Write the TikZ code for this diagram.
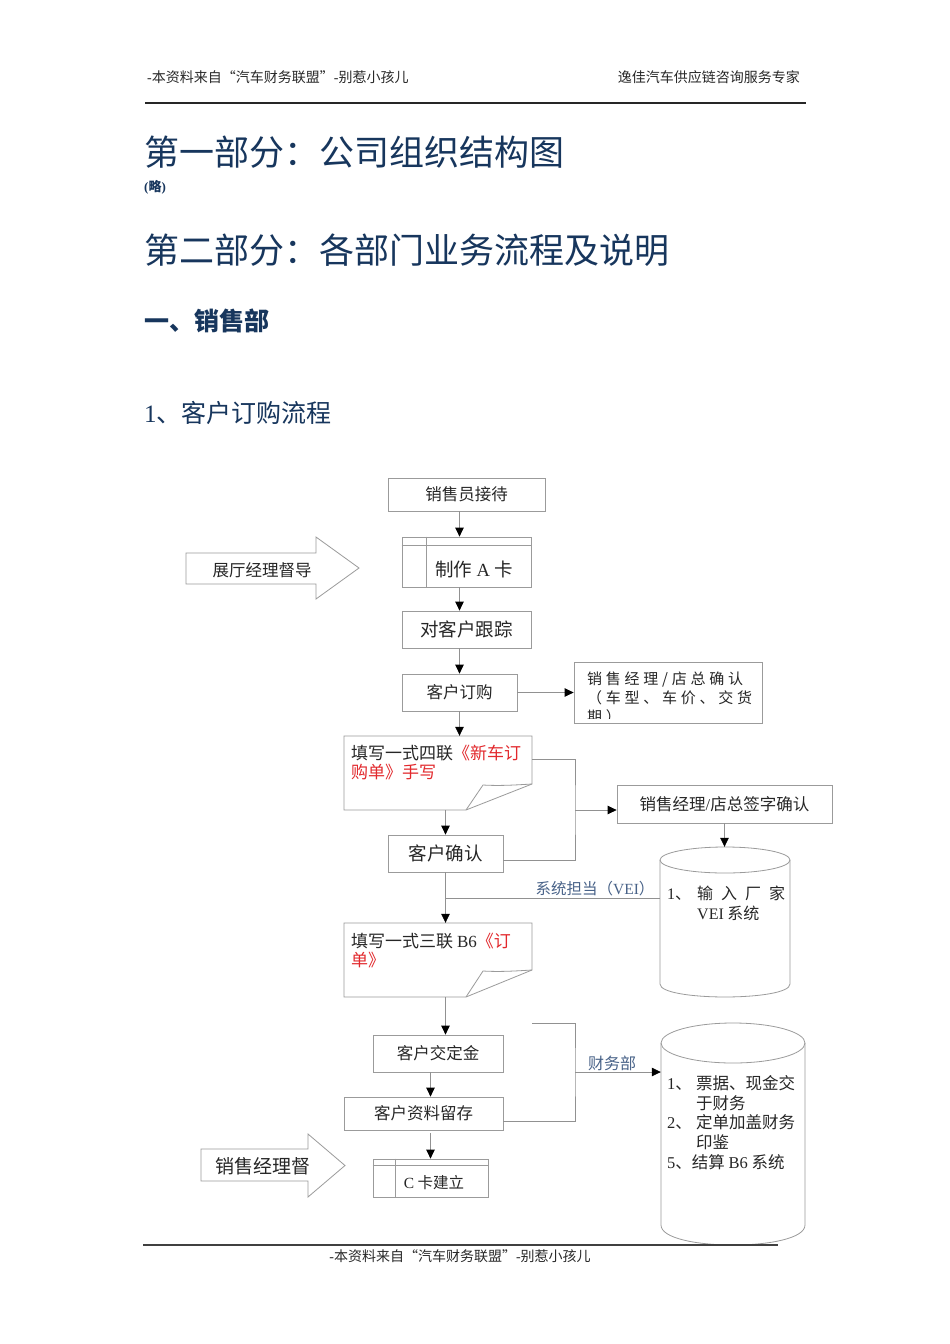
\documentclass[tikz,border=0pt]{standalone}
\usepackage{fontspec}
\setmainfont{Noto Sans CJK SC}
\newfontfamily\latn{Liberation Serif}
\newfontfamily\cjkwide[LetterSpace=25]{Noto Sans CJK SC}
\usetikzlibrary{arrows.meta,calc}
\newcommand{\fsz}[2]{\fontsize{#1}{#2}\selectfont}
\definecolor{navy}{RGB}{23,54,93}
\definecolor{boxgray}{RGB}{155,155,155}
\definecolor{linegray}{RGB}{145,145,145}
\definecolor{ordred}{RGB}{226,40,44}
\definecolor{slate}{RGB}{72,98,136}
\definecolor{headgray}{RGB}{40,40,40}
\begin{document}
\begin{tikzpicture}[x=1pt,y=1pt,yscale=-1,xscale=1,
    box/.style={draw=boxgray,line width=0.8pt,inner sep=0pt,text=black!85},
    ghost/.style={inner sep=0pt},
    link/.style={draw=linegray,line width=0.8pt},
    tip/.style={-{Triangle[length=9pt,width=8.5pt,color=black]}},
    txt/.style={inner sep=0pt,text=black!85,font=\fsz{16.5}{19}},
    note/.style={inner sep=0pt,text=slate,font=\fsz{15.5}{18}},
    head/.style={anchor=west,inner sep=0pt,text=navy}]
        % Page
        \fill[white] (0,0) rectangle (950,1344);
        \useasboundingbox (0,0) rectangle (950,1344);

        % Text Node
        \node[anchor=west,inner sep=0pt,text=headgray,font=\fsz{14}{16}] (hdleft) at (147,77) {{\latn -}本资料来自“汽车财务联盟”{\latn -}别惹小孩儿};
        % Text Node
        \node[anchor=east,inner sep=0pt,text=headgray,font=\fsz{14}{16}] (hdright) at (800,77) {逸佳汽车供应链咨询服务专家};
        %Straight Lines
        \draw[line width=1.8pt,black!85] (145,103) -- (806,103);

        % Text Node
        \node[head,font=\fsz{35}{40}] (part1) at (144,152) {第一部分：公司组织结构图};
        % Text Node
        \node[head,font=\fsz{13}{15}\bfseries] (omit) at (144,187) {{\latn\bfseries (}略{\latn\bfseries )}};
        % Text Node
        \node[head,font=\fsz{35}{40}] (part2) at (144,250) {第二部分：各部门业务流程及说明};
        % Text Node
        \node[head,font=\fsz{25}{30}\bfseries] (sales) at (144,321) {一、销售部};
        % Text Node
        \node[head,font=\fsz{25}{30}] (flow) at (144,413) {{\latn 1}、客户订购流程};

        %Shape: Rectangle
        \node[box,minimum width=157pt,minimum height=33pt,font=\fsz{16.5}{19}] (recv) at (466.5,494.5) {销售员接待};
        %Shape: Card
        \node[box,minimum width=129pt,minimum height=50pt] (cardA) at (466.5,562) {};
        \draw[box] ([yshift=9pt]cardA.north west) -- ([yshift=9pt]cardA.north east);
        \draw[box] ([xshift=25pt]cardA.north west) -- ([xshift=25pt]cardA.south west);
        \node[txt,font=\fsz{18.5}{22}] (cardAt) at (474,569) {制作 {\latn A} 卡};
        %Shape: Rectangle
        \node[box,minimum width=129pt,minimum height=37pt,font=\fsz{18.5}{22}] (track) at (466.5,629.5) {对客户跟踪};
        %Shape: Rectangle
        \node[box,minimum width=115pt,minimum height=37pt,font=\fsz{16.5}{19}] (order) at (459.5,692.5) {客户订购};
        %Shape: Rectangle
        \node[box,minimum width=188pt,minimum height=61pt] (confirm) at (668,692.5) {};
        \begin{scope}
            \clip (575,663) rectangle (761,718);
            \node[anchor=west,inner sep=0pt,align=left,text=black!85,font=\cjkwide\fsz{15}{19}] (confirmt) at (587,697.5) {销售经理/店总确认\\（车型、车价、交货\\期）};
        \end{scope}

        %Shape: Document
        \node[ghost,minimum width=188pt,minimum height=74pt] (doc1) at (438,773) {};
        \draw[box] (344,736) -- (532,736) -- (532,784) -- (466,810) -- (344,810) -- cycle;
        \draw[box] (466,810) -- (483,785) .. controls (500,786) and (515,785) .. (532,784);
        \node[txt,anchor=west,align=left,font=\fsz{17}{19}] (doc1t) at (351,762.5) {填写一式四联\textcolor{ordred}{《新车订}\\\textcolor{ordred}{购单》手写}};

        %Shape: Rectangle
        \node[box,minimum width=115pt,minimum height=37pt,font=\fsz{18.5}{22}] (ack) at (445.5,853.5) {客户确认};
        %Shape: Rectangle
        \node[box,minimum width=215pt,minimum height=38pt,font=\fsz{16.5}{19}] (sign) at (724.5,804) {销售经理{\latn /}店总签字确认};

        %Shape: Cylinder
        \node[ghost,minimum width=130pt,minimum height=150pt] (cyl1) at (725,922) {};
        \draw[box] (660,860) -- (660,984) .. controls (660,1001.3) and (790,1001.3) .. (790,984) -- (790,860);
        \draw[box] (725,860) ellipse [x radius=65, y radius=13];
        \node[txt,anchor=west,align=left,font=\fsz{16}{20}] (cyl1t) at (667,903) {\makebox[30pt][l]{{\latn 1}、}输\hspace{8pt}入\hspace{8pt}厂\hspace{8pt}家\\\hspace*{30pt}{\latn VEI} 系统};

        %Shape: Document
        \node[ghost,minimum width=188pt,minimum height=74pt] (doc2) at (438,960) {};
        \draw[box] (344,923) -- (532,923) -- (532,970) -- (466,997) -- (344,997) -- cycle;
        \draw[box] (466,997) -- (483,971) .. controls (500,972) and (515,971) .. (532,970);
        \node[txt,anchor=west,align=left,font=\fsz{17}{19}] (doc2t) at (351,950.5) {填写一式三联 {\latn B6}\textcolor{ordred}{《订}\\\textcolor{ordred}{单》}};

        %Shape: Rectangle
        \node[box,minimum width=130pt,minimum height=37pt,font=\fsz{16.5}{19}] (dep) at (438,1053.5) {客户交定金};
        %Shape: Rectangle
        \node[box,minimum width=159pt,minimum height=33pt,font=\fsz{16.5}{19}] (keep) at (423.5,1113.5) {客户资料留存};
        %Shape: Card
        \node[box,minimum width=115pt,minimum height=38pt] (cardC) at (430.5,1178) {};
        \draw[box] ([yshift=7pt]cardC.north west) -- ([yshift=7pt]cardC.north east);
        \draw[box] ([xshift=23pt]cardC.north west) -- ([xshift=23pt]cardC.south west);
        \node[txt,font=\fsz{15.5}{18}] (cardCt) at (434,1183) {{\latn C} 卡建立};

        %Shape: Cylinder
        \node[ghost,minimum width=144pt,minimum height=222pt] (cyl2) at (733,1134) {};
        \draw[box] (661,1043) -- (661,1225) .. controls (661,1251.7) and (805,1251.7) .. (805,1225) -- (805,1043);
        \draw[box] (733,1043) ellipse [x radius=72, y radius=20];
        \node[txt,anchor=west,align=left,font=\fsz{16.5}{19.75}] (cyl2t) at (667,1122.5) {\makebox[29pt][l]{{\latn 1}、}票据、现金交\\\hspace*{29pt}于财务\\\makebox[29pt][l]{{\latn 2}、}定单加盖财务\\\hspace*{29pt}印鉴\\{\latn 5}、结算 {\latn B6} 系统};

        %Shape: Right Arrow
        \draw[draw=boxgray,line width=0.8pt] (186,553) -- (316,553) -- (316,537) -- (359,568) -- (316,599) -- (316,584) -- (186,584) -- cycle;
        \node[txt,font=\fsz{16.5}{19}] (hallmgr) at (262,570) {展厅经理督导};
        %Shape: Right Arrow
        \draw[draw=boxgray,line width=0.8pt] (201,1149) -- (308,1149) -- (308,1134) -- (345,1165.5) -- (308,1197) -- (308,1181) -- (201,1181) -- cycle;
        \node[txt,font=\fsz{19}{22}] (salesmgr) at (263,1166) {销售经理督};

        %Straight Lines
        \draw[link,tip] (recv.south -| order.north) -- (cardA.north -| order.north);
        \draw[link,tip] (cardA.south -| order.north) -- (track.north -| order.north);
        \draw[link,tip] (track.south -| order.north) -- (order.north);
        \draw[link,tip] (order.east) -- (order.east -| confirm.west);
        \draw[link,tip] (order.south) -- (order.south |- doc1.north);
        \draw[link,tip] (doc1.south -| ack.north) -- (ack.north);

        %Straight Lines
        \coordinate (j1) at (575,810);
        \draw[link] ($(doc1.north east)!0.32!(doc1.south east)$) -| (j1) |- ($(ack.north east)!0.68!(ack.south east)$);
        \draw[link,tip] (j1) -- (j1 -| sign.west);
        \draw[link,tip] (sign.south) -- (sign.south |- cyl1.north);

        %Straight Lines
        \draw[link,tip] (ack.south) -- (ack.south |- doc2.north);
        \coordinate (vei) at (445.5,898);
        \draw[link] (vei) -- (vei -| cyl1.west);
        \node[note] (veilbl) at (595,889) {系统担当（{\latn VEI}）};

        %Straight Lines
        \draw[link,tip] (doc2.south -| ack.south) -- (dep.north -| ack.south);
        \draw[link,tip] (dep.south -| cardC.north) -- (keep.north -| cardC.north);
        \draw[link,tip] ([yshift=3pt]keep.south -| cardC.north) -- (cardC.north);

        %Straight Lines
        \coordinate (fin0) at (532,1023);
        \coordinate (j2) at (575,1072);
        \draw[link] (fin0) -| (j2) |- ($(keep.north east)!0.73!(keep.south east)$);
        \draw[link,tip] (j2) -- (j2 -| cyl2.west);
        \node[note,font=\fsz{16}{18}] (finlbl) at (612,1063) {财务部};

        % Footer
        \draw[line width=2.6pt,black!75] (143,1245) -- (778,1245);
        \node[inner sep=0pt,text=headgray,font=\fsz{14}{16}] (ftr) at (460,1256) {{\latn -}本资料来自“汽车财务联盟”{\latn -}别惹小孩儿};
\end{tikzpicture}
\end{document}
